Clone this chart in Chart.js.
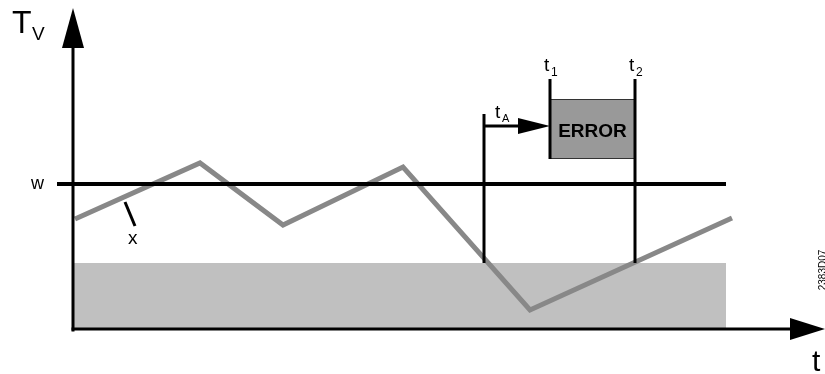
<!DOCTYPE html>
<html>
<head>
<meta charset="utf-8">
<script src="https://cdn.jsdelivr.net/npm/chart.js@4"></script>
<style>
  body { margin: 0; background: #fff; }
  #wrap { position: relative; width: 825px; height: 374px; }
</style>
</head>
<body>
<div id="wrap"><canvas id="tvChart"></canvas></div>
<script>
// actual value x (time, temperature)
const xTimes = [0.2, 12.7, 21.0, 33.0, 45.7, 65.9];
const xTemps = [11.1, 16.7, 10.5, 16.3, 2.0, 11.2];

// setpoint w and the lower limit band
const setpointW = 14.6;
const setpointSpan = [-1.6, 65.3];
const lowLimit = 6.7;
const lowLimitSpan = [0, 65.3];

// marker times: start of delay, error start, error end
const markerNames = ['tA', 't1', 't2'];
const markerTimes = [41.1, 47.7, 56.2];
const markerTops = [21.6, 25.1, 25.1];
const errorBox = [23.1, 17.1]; // top, bottom of ERROR box
const delayArrowY = 20.4;

// axis ends
const xAxisEnd = 75.0;
const yAxisEnd = 32.2;

function toPoints(xs, ys) {
    return xs.map((v, i) => ({ x: v, y: ys[i] }));
}

// draws axes, markers, error box and labels
const sketchPlugin = {
    id: 'sketch',
    afterDatasetsDraw(chart) {
        const ctx = chart.ctx;
        const sx = chart.scales.x, sy = chart.scales.y;
        const px = v => sx.getPixelForValue(v);
        const py = v => sy.getPixelForValue(v);
        const seg = (x1, y1, x2, y2, w) => {
            ctx.lineWidth = w;
            ctx.beginPath(); ctx.moveTo(x1, y1); ctx.lineTo(x2, y2); ctx.stroke();
        };
        const tri = (a, b, c) => {
            ctx.beginPath(); ctx.moveTo(a[0], a[1]); ctx.lineTo(b[0], b[1]); ctx.lineTo(c[0], c[1]);
            ctx.closePath(); ctx.fill();
        };
        ctx.save();
        ctx.strokeStyle = '#000';
        ctx.fillStyle = '#000';
        ctx.lineCap = 'butt';

        const x0 = px(0), y0 = py(0);
        // y axis with arrow
        seg(x0, y0 + 1.5, x0, py(yAxisEnd) + 30, 3);
        tri([x0, py(yAxisEnd)], [x0 - 11, py(yAxisEnd) + 40], [x0 + 11, py(yAxisEnd) + 40]);
        // x axis with arrow
        const xe = px(xAxisEnd) + 2;
        seg(x0 - 1.5, y0 - 1, xe - 30, y0 - 1, 3);
        tri([xe, y0 - 1], [xe - 35, y0 - 12], [xe - 35, y0 + 10]);

        // error box
        const bl = px(markerTimes[1]), br = px(markerTimes[2]);
        const bt = py(errorBox[0]), bb = py(errorBox[1]);
        ctx.fillStyle = '#999999';
        ctx.fillRect(bl, bt, br - bl, bb - bt);
        ctx.strokeStyle = '#333';
        ctx.lineWidth = 1;
        ctx.strokeRect(bl + 0.5, bt + 0.5, br - bl - 1, bb - bt - 1);
        ctx.strokeStyle = '#000';
        ctx.fillStyle = '#000';

        // marker lines
        seg(px(markerTimes[0]), py(markerTops[0]), px(markerTimes[0]), py(lowLimit), 3);
        seg(bl, py(markerTops[1]), bl, bb, 3);
        seg(br, py(markerTops[2]), br, py(lowLimit), 3);

        // delay arrow tA
        const ay = py(delayArrowY);
        seg(px(markerTimes[0]), ay, bl - 28, ay, 3);
        tri([bl, ay], [bl - 32, ay - 8], [bl - 32, ay + 8]);

        // labels
        const font = (s, b) => (b ? 'bold ' : '') + s + 'px "Liberation Sans", Arial, sans-serif';
        ctx.textBaseline = 'alphabetic';
        ctx.textAlign = 'left';
        ctx.font = font(32); ctx.fillText('T', 12, 33);
        ctx.font = font(19); ctx.fillText('V', 32, 40);

        ctx.font = font(19, true);
        ctx.textAlign = 'center';
        ctx.fillText('ERROR', (bl + br) / 2, bb - 22);

        ctx.textAlign = 'left';
        ctx.font = font(19); ctx.fillText('t', bl - 6, 71);
        ctx.font = font(12); ctx.fillText('1', bl + 1, 76);
        ctx.font = font(19); ctx.fillText('t', br - 6, 71);
        ctx.font = font(12); ctx.fillText('2', br + 1, 76);
        ctx.font = font(19); ctx.fillText('t', px(markerTimes[0]) + 11, ay - 8);
        ctx.font = font(11); ctx.fillText('A', px(markerTimes[0]) + 18, ay - 4);

        ctx.font = font(18); ctx.fillText('w', 31, 189);
        ctx.font = font(19); ctx.fillText('x', 128, 244);
        // pointer from label x to the curve
        seg(px(5.2), py(12.8), px(6.2), py(10.4), 3);

        ctx.font = font(30); ctx.fillText('t', 812, 371);

        ctx.save();
        ctx.translate(826, 270);
        ctx.rotate(-Math.PI / 2);
        ctx.textAlign = 'center';
        ctx.font = font(10);
        ctx.fillText('2383D07', 0, 0);
        ctx.restore();

        ctx.restore();
    }
};

window.onload = function() {
    const ctx = document.getElementById('tvChart').getContext('2d');
    new Chart(ctx, {
        type: 'scatter',
        data: {
            datasets: [{
                label: 'low limit',
                data: toPoints(lowLimitSpan, [lowLimit, lowLimit]),
                showLine: true,
                borderWidth: 0,
                borderColor: 'rgba(0,0,0,0)',
                backgroundColor: '#c0c0c0',
                fill: 'origin',
                pointRadius: 0,
                order: 3
            }, {
                label: 'x',
                data: toPoints(xTimes, xTemps),
                showLine: true,
                borderColor: '#888888',
                borderWidth: 5,
                borderJoinStyle: 'miter',
                fill: false,
                pointRadius: 0,
                order: 2
            }, {
                label: 'w',
                data: toPoints(setpointSpan, [setpointW, setpointW]),
                showLine: true,
                borderColor: '#000000',
                borderWidth: 4,
                fill: false,
                pointRadius: 0,
                order: 1
            }]
        },
        options: {
            responsive: true,
            maintainAspectRatio: false,
            animation: false,
            clip: false,
            layout: { padding: { left: 0, right: 2, top: 0, bottom: 44 } },
            plugins: { legend: { display: false }, tooltip: { enabled: false } },
            scales: {
                x: { type: 'linear', min: -7.3, max: 75, display: false },
                y: { type: 'linear', min: 0, max: 33, display: false }
            }
        },
        plugins: [sketchPlugin]
    });
};
</script>
</body>
</html>
